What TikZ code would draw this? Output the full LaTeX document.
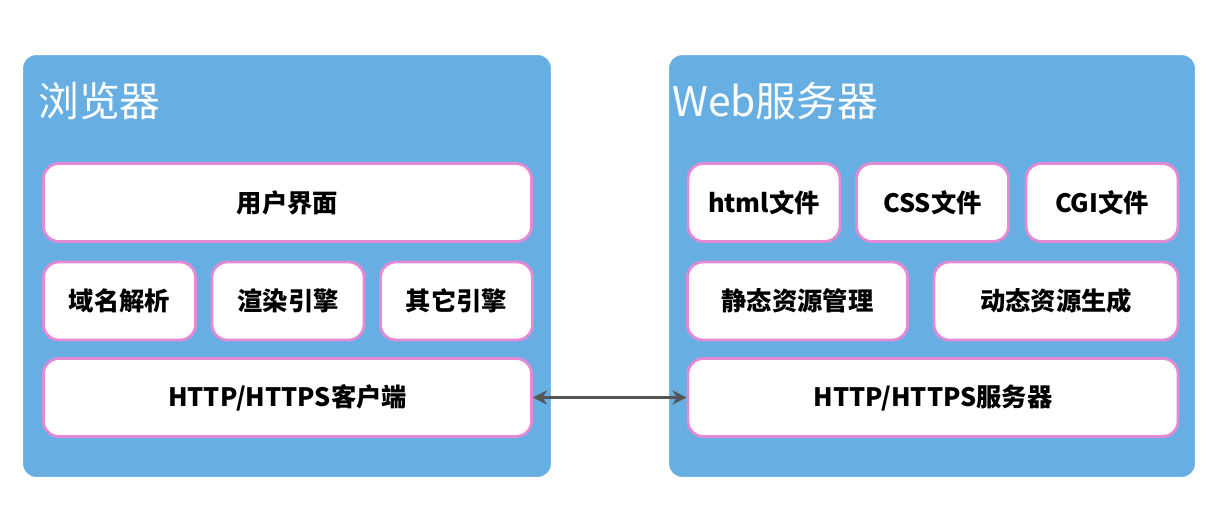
\documentclass[tikz,border=0pt]{standalone}
\usepackage{fontspec}
\setmainfont{Noto Sans CJK SC}
\usetikzlibrary{arrows.meta}
\definecolor{panelblue}{HTML}{67AEE3}
\definecolor{boxpink}{HTML}{E38AD6}
\definecolor{arrowgray}{HTML}{555555}
\tikzset{
  panel/.style={fill=panelblue, draw=white, line width=1.5pt, rounded corners=10pt},
  box/.style={fill=white, draw=boxpink, line width=2pt, rounded corners=11pt,
    font=\fontsize{18}{20}\selectfont\bfseries, inner sep=0pt},
  title/.style={anchor=west, text=white, font=\fontsize{29}{32}\selectfont, inner sep=0pt}
}
\begin{document}
\begin{tikzpicture}[x=0.025cm, y=-0.025cm]
\useasboundingbox (0,0) rectangle (1230,524);
% panels
\draw[panel] (22,54) rectangle (552,478);
\draw[panel] (668,54) rectangle (1196,478);
\node[title] (tb) at (38,101) {浏览器};
\node[title] (tw) at (672,101) {Web服务器};
% browser
\node[box, minimum width=12.2cm, minimum height=1.95cm] (ui) at (287.5,202.5) {用户界面};
\node[box, minimum width=3.8cm, minimum height=1.95cm] (dns) at (119.5,301) {域名解析};
\node[box, minimum width=3.8cm, minimum height=1.95cm] (render) at (288,301) {渲染引擎};
\node[box, minimum width=3.8cm, minimum height=1.95cm] (other) at (456.5,301) {其它引擎};
\node[box, minimum width=12.2cm, minimum height=1.95cm] (client) at (287.5,397.5) {HTTP/HTTPS客户端};
% server
\node[box, minimum width=3.8cm, minimum height=1.95cm] (html) at (764,202.5) {html文件};
\node[box, minimum width=3.8cm, minimum height=1.95cm] (css) at (932.5,202.5) {CSS文件};
\node[box, minimum width=3.8cm, minimum height=1.95cm] (cgi) at (1102,202.5) {CGI文件};
\node[box, minimum width=5.5cm, minimum height=1.95cm] (static) at (797.5,301) {静态资源管理};
\node[box, minimum width=6.1cm, minimum height=1.95cm] (dynamic) at (1056,301) {动态资源生成};
\node[box, minimum width=12.25cm, minimum height=1.95cm] (server) at (933,397.5) {HTTP/HTTPS服务器};
% link
\draw[arrowgray, line width=2pt, {Stealth[length=10pt,width=10pt]}-{Stealth[length=10pt,width=10pt]}] (client.east) -- (server.west);
\end{tikzpicture}
\end{document}
